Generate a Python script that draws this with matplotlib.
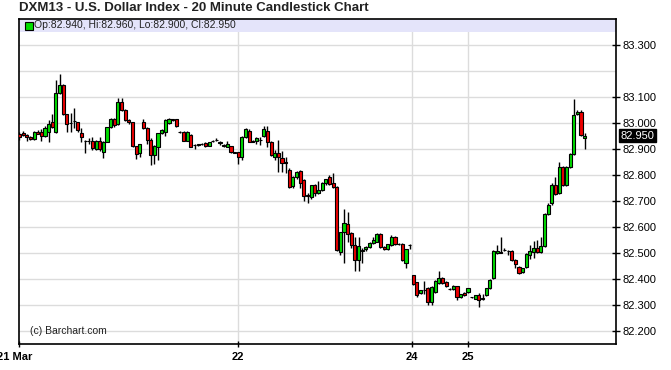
import numpy as np
import matplotlib
matplotlib.use("Agg")
import matplotlib.pyplot as plt
from matplotlib.transforms import blended_transform_factory, ScaledTranslation

plt.rcParams['font.family'] = ['Liberation Sans', 'DejaVu Sans']

# 20-minute candles, DXM13
opens = [82.955, 82.962, 82.952, 82.945, 82.938, 82.965, 82.965, 82.950, 82.965, 83.001,
         82.965, 83.113, 83.147, 83.032, 82.998, 83.005, 83.001, 82.960, 82.930, 82.928,
         82.929, 82.899, 82.929, 82.886, 82.927, 82.982, 83.013, 82.994, 83.081, 83.049,
         83.010, 83.001, 82.910, 82.883, 83.004, 82.978, 82.933, 82.876, 82.908, 82.961,
         82.965, 83.000, 83.013, 83.013, 82.966, 82.965, 82.930, 82.953, 82.914, 82.916,
         82.918, 82.923, 82.912, 82.930, 82.932, 82.924, 82.912, 82.908, 82.909, 82.886,
         82.886, 82.869, 82.946, 82.969, 82.928, 82.931, 82.935, 82.949, 82.968, 82.924,
         82.869, 82.885, 82.863, 82.847, 82.818, 82.758, 82.790, 82.814, 82.780, 82.722,
         82.713, 82.759, 82.728, 82.741, 82.767, 82.790, 82.767, 82.751, 82.504, 82.581,
         82.609, 82.577, 82.530, 82.474, 82.508, 82.513, 82.523, 82.538, 82.542, 82.574,
         82.523, 82.513, 82.529, 82.559, 82.533, 82.533, 82.459, 82.528, 82.414, 82.386,
         82.344, 82.356, 82.363, 82.312, 82.350, 82.382, 82.401, 82.388, 82.360, 82.360,
         82.372, 82.328, 82.346, 82.350, 82.328, 82.324, 82.336, 82.324, 82.337, 82.363,
         82.401, 82.500, 82.502, 82.510, 82.508, 82.508, 82.472, 82.446, 82.427, 82.446,
         82.491, 82.504, 82.520, 82.504, 82.526, 82.649, 82.690, 82.760, 82.728, 82.828,
         82.760, 82.828, 82.879, 83.033, 83.042, 82.940]
highs = [82.965, 82.968, 82.955, 82.950, 82.970, 82.972, 82.975, 82.987, 83.010, 83.032,
         83.164, 83.186, 83.150, 83.035, 83.036, 83.058, 83.003, 82.978, 82.935, 82.940,
         82.946, 82.935, 82.946, 82.930, 82.985, 83.020, 83.020, 83.094, 83.094, 83.052,
         83.015, 83.004, 82.912, 82.920, 83.015, 82.985, 82.940, 82.915, 82.962, 82.975,
         83.015, 83.020, 83.016, 83.016, 82.968, 82.968, 82.968, 82.955, 82.918, 82.920,
         82.922, 82.926, 82.926, 82.934, 82.940, 82.930, 82.918, 82.930, 82.912, 82.889,
         82.888, 82.950, 82.978, 82.975, 82.932, 82.945, 82.945, 82.987, 82.987, 82.930,
         82.895, 82.935, 82.890, 82.870, 82.825, 82.795, 82.815, 82.818, 82.785, 82.728,
         82.762, 82.765, 82.775, 82.772, 82.785, 82.800, 82.805, 82.755, 82.580, 82.670,
         82.655, 82.580, 82.560, 82.560, 82.520, 82.525, 82.540, 82.560, 82.575, 82.576,
         82.526, 82.535, 82.570, 82.565, 82.536, 82.536, 82.515, 82.532, 82.416, 82.388,
         82.358, 82.390, 82.370, 82.372, 82.395, 82.430, 82.405, 82.390, 82.364, 82.376,
         82.374, 82.343, 82.350, 82.365, 82.330, 82.338, 82.345, 82.340, 82.365, 82.398,
         82.510, 82.530, 82.560, 82.520, 82.512, 82.510, 82.475, 82.448, 82.442, 82.500,
         82.530, 82.545, 82.550, 82.560, 82.652, 82.690, 82.770, 82.790, 82.850, 82.832,
         82.832, 82.882, 83.090, 83.050, 83.050, 82.960]
lows = [82.935, 82.948, 82.930, 82.935, 82.935, 82.955, 82.930, 82.945, 82.925, 82.980,
        82.962, 83.110, 83.030, 82.965, 82.965, 82.978, 82.965, 82.927, 82.882, 82.920,
        82.895, 82.895, 82.890, 82.865, 82.925, 82.980, 82.985, 82.990, 83.045, 83.005,
        82.995, 82.905, 82.862, 82.870, 82.975, 82.920, 82.837, 82.840, 82.856, 82.955,
        82.950, 82.995, 83.008, 82.982, 82.962, 82.928, 82.928, 82.905, 82.900, 82.912,
        82.914, 82.908, 82.910, 82.925, 82.928, 82.915, 82.908, 82.905, 82.884, 82.882,
        82.840, 82.855, 82.940, 82.925, 82.925, 82.920, 82.915, 82.945, 82.908, 82.872,
        82.855, 82.810, 82.810, 82.805, 82.748, 82.750, 82.785, 82.750, 82.700, 82.690,
        82.705, 82.720, 82.725, 82.738, 82.762, 82.760, 82.748, 82.505, 82.490, 82.460,
        82.540, 82.520, 82.430, 82.430, 82.460, 82.508, 82.518, 82.535, 82.540, 82.518,
        82.510, 82.510, 82.527, 82.530, 82.530, 82.470, 82.440, 82.515, 82.375, 82.330,
        82.340, 82.340, 82.300, 82.300, 82.345, 82.378, 82.380, 82.370, 82.356, 82.358,
        82.320, 82.325, 82.335, 82.345, 82.326, 82.322, 82.290, 82.320, 82.335, 82.360,
        82.398, 82.495, 82.498, 82.505, 82.490, 82.470, 82.440, 82.420, 82.424, 82.440,
        82.475, 82.480, 82.500, 82.500, 82.524, 82.645, 82.685, 82.722, 82.725, 82.755,
        82.755, 82.825, 82.876, 83.030, 82.950, 82.900]
closes = [82.945, 82.952, 82.945, 82.938, 82.965, 82.958, 82.950, 82.978, 82.997, 82.983,
          83.113, 83.147, 83.032, 82.997, 83.000, 83.008, 82.974, 82.944, 82.928, 82.929,
          82.901, 82.929, 82.899, 82.927, 82.982, 83.013, 82.991, 83.081, 83.049, 83.010,
          83.001, 82.910, 82.878, 82.917, 82.978, 82.933, 82.876, 82.912, 82.959, 82.972,
          83.010, 83.013, 83.012, 82.987, 82.964, 82.930, 82.965, 82.908, 82.913, 82.917,
          82.918, 82.912, 82.924, 82.929, 82.932, 82.925, 82.911, 82.917, 82.886, 82.885,
          82.867, 82.946, 82.975, 82.927, 82.927, 82.942, 82.933, 82.974, 82.927, 82.876,
          82.882, 82.869, 82.847, 82.846, 82.751, 82.790, 82.809, 82.767, 82.718, 82.720,
          82.759, 82.728, 82.741, 82.769, 82.782, 82.764, 82.751, 82.510, 82.578, 82.613,
          82.574, 82.530, 82.472, 82.526, 82.508, 82.523, 82.538, 82.549, 82.572, 82.523,
          82.513, 82.532, 82.559, 82.533, 82.533, 82.474, 82.513, 82.530, 82.379, 82.337,
          82.356, 82.356, 82.312, 82.369, 82.391, 82.401, 82.382, 82.372, 82.360, 82.373,
          82.328, 82.341, 82.337, 82.363, 82.328, 82.336, 82.320, 82.324, 82.363, 82.395,
          82.508, 82.506, 82.500, 82.512, 82.507, 82.474, 82.456, 82.423, 82.440, 82.497,
          82.506, 82.520, 82.504, 82.526, 82.649, 82.683, 82.760, 82.726, 82.828, 82.760,
          82.828, 82.879, 83.029, 83.042, 82.953, 82.950]

day_labels = ["21 Mar", "22", "24", "25"]
day_pos = [0.0, 59.9, 107.6, 123.0]
price_ticks = [82.2, 82.3, 82.4, 82.5, 82.6, 82.7, 82.8, 82.9, 83.0, 83.1, 83.3]
last_price = 82.950
legend_text = "Op:82.940, Hi:82.960, Lo:82.900, Cl:82.950"

o = np.array(opens)
h = np.array(highs)
l = np.array(lows)
c = np.array(closes)
x = np.arange(len(o))

fig = plt.figure(figsize=(6.71, 3.70), dpi=100)
ax = fig.add_axes([18.5 / 671, 26 / 370, 597.5 / 671, 325 / 370])

ymin, ymax = 82.149, 83.399
ax.set_ylim(ymin, ymax)
ax.set_xlim(-0.27, 163.6)

# grid
for p in np.arange(82.2, 83.35, 0.1):
    ax.axhline(p, color='#dcdcdc', lw=1, zorder=0)
for d in day_pos[1:]:
    ax.axvline(d, color='#dcdcdc', lw=1, zorder=0)

# legend band on top
ax.axhspan(83.349, ymax, color='#e4e4fa', zorder=1, lw=0)

# candles
ax.vlines(x, l, h, color='black', lw=1, zorder=2)
up = c >= o
cols = np.where(up, '#00dd00', '#ee0000')
body = np.abs(c - o)
body = np.maximum(body, 0.0015)
ax.bar(x, body, bottom=np.minimum(o, c), width=0.85, color=cols,
       edgecolor='black', linewidth=0.8, zorder=3)

# legend entry
ax.plot([2.6], [83.374], marker='s', ms=6, mfc='#00dd00', mec='black', mew=0.8,
        ls='none', zorder=4)
ax.text(4.0, 83.374, legend_text, fontsize=7.5, color='#222222', va='center', zorder=4)

ax.text(3.0, 82.2, "(c) Barchart.com", fontsize=7.5, color='#222222', va='center')

# axes frame
for s in ax.spines.values():
    s.set_color('black')
    s.set_linewidth(1.2)

ax.yaxis.tick_right()
ax.set_yticks(price_ticks)
ax.set_yticklabels(["%.3f" % p for p in price_ticks], fontsize=8)
ax.tick_params(axis='y', direction='inout', length=6, width=1, pad=2, colors='black')

ax.set_xticks(day_pos)
ax.set_xticklabels(day_labels, fontsize=8, fontweight='bold')
ax.tick_params(axis='x', direction='inout', length=5, width=1, pad=3)
# first date label sits half off the left edge, as in the original
first = ax.get_xticklabels()[0]
first.set_transform(first.get_transform() + ScaledTranslation(-5 / 100, 0, fig.dpi_scale_trans))

# last price marker on the right axis
tr = blended_transform_factory(ax.transAxes, ax.transData)
ax.text(1.0075, last_price, "%.3f" % last_price, transform=tr, fontsize=8,
        color='white', va='center', ha='left',
        bbox=dict(boxstyle='square,pad=0.12', fc='black', ec='black'), zorder=6,
        clip_on=False)

fig.text(19 / 671, 1 - 8 / 370, "DXM13 - U.S. Dollar Index - 20 Minute Candlestick Chart",
         fontsize=9.5, fontweight='bold', color='#222222', va='center', ha='left')

fig.savefig("out.png", dpi=100, facecolor='white')
